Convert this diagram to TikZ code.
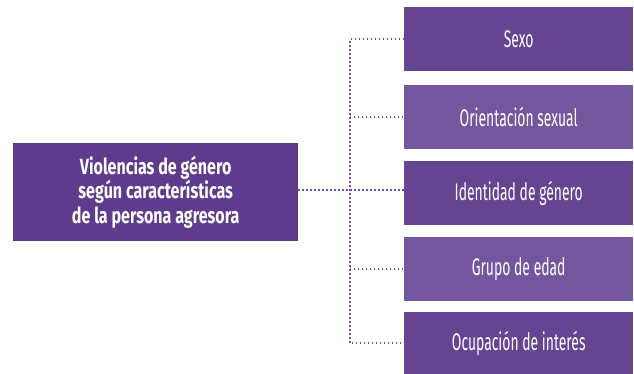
\documentclass[tikz,border=0pt]{standalone}
\usepackage{fontspec}
\setmainfont{Fira Sans}[FakeStretch=0.58]
\newfontfamily\boldf{Fira Sans}[FakeStretch=0.73]
\begin{document}
\begin{tikzpicture}[x=1pt,y=-1pt,
  dk/.style={fill=boxdark},
  lt/.style={fill=boxlight},
  item/.style={draw=none,minimum width=229pt,minimum height=64pt,inner sep=0pt,text=white,font=\fontsize{24}{26}\selectfont,anchor=north west},
  conn/.style={draw=linec,line width=1.7pt,dash pattern=on 1.4pt off 2.6pt}]
\definecolor{boxdark}{HTML}{654592}
\definecolor{boxlight}{HTML}{74569E}
\definecolor{leftc}{HTML}{5F3B8E}
\definecolor{linec}{HTML}{7446B0}
\useasboundingbox (0,0) rectangle (634,374);
\node[fill=leftc,minimum width=285pt,minimum height=98pt,inner sep=0pt,anchor=north west,text=white,align=center,font=\boldf\bfseries\fontsize{22}{24.5}\selectfont] (src) at (13,143) {Violencias de género\\según características\\de la persona agresora};
\node[item,dk] (b1) at (404,7) {Sexo};
\node[item,lt] (b2) at (404,85) {Orientación sexual};
\node[item,dk] (b3) at (404,161) {Identidad de género};
\node[item,lt] (b4) at (404,237) {Grupo de edad};
\node[item,dk,minimum height=62pt] (b5) at (404,312) {Ocupación de interés};
\coordinate (t) at (350,190);
\draw[conn] (src.east|-t) -- (b3.west|-t);
\draw[conn] (b1.west) -- (b1.west-|t) -- (b5.west-|t) -- (b5.west);
\draw[conn] (b2.west-|t) -- (b2.west);
\draw[conn] (b4.west-|t) -- (b4.west);
\end{tikzpicture}
\end{document}
